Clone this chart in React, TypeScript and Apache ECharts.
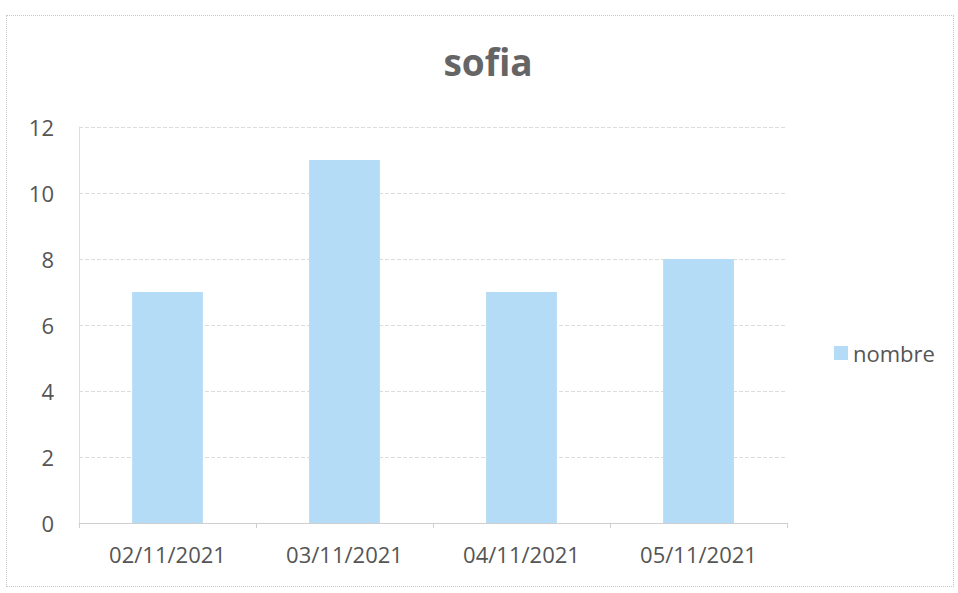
import React, { useEffect, useRef } from "react";
import * as echarts from "echarts";

const categories = ["02/11/2021", "03/11/2021", "04/11/2021", "05/11/2021"];
const values = [7, 11, 7, 8];
const seriesName = "nombre";
const title = "sofia";

export default function App() {
  const ref = useRef<HTMLDivElement>(null);
  useEffect(() => {
    const chart = echarts.init(ref.current!, undefined, { renderer: "svg" });
    chart.setOption({
      animation: false,
      backgroundColor: "#ffffff",
      title: {
        text: title,
        left: 483,
        textAlign: "center",
        top: 38,
        textStyle: { fontFamily: "Open Sans", fontSize: 37, fontWeight: "bold", color: "#656565" },
      },
      legend: {
        orient: "vertical",
        left: 829,
        top: 337,
        itemWidth: 14,
        itemHeight: 14,
        itemGap: 6,
        icon: "rect",
        textStyle: { fontFamily: "Open Sans", fontSize: 22, color: "#555555" },
        data: [seriesName],
      },
      grid: { left: 79, right: 171, top: 127, bottom: 70, containLabel: false },
      xAxis: {
        type: "category",
        data: categories,
        axisLine: { show: true, lineStyle: { color: "#cfcfcf" } },
        axisTick: { show: true, length: 5, lineStyle: { color: "#cfcfcf" } },
        axisLabel: { fontFamily: "Open Sans", fontSize: 22, color: "#555555", margin: 20 },
      },
      yAxis: {
        type: "value",
        min: 0,
        max: 12,
        interval: 2,
        axisLine: { show: true, lineStyle: { color: "#dcdcdc" } },
        axisTick: { show: false },
        splitLine: { lineStyle: { color: "#dcdcdc", type: "dashed" } },
        axisLabel: { fontFamily: "Open Sans", fontSize: 22, color: "#555555", margin: 25 },
      },
      series: [
        {
          name: seriesName,
          type: "bar",
          data: values,
          barWidth: "40%",
          itemStyle: { color: "#b5dcf6" },
        },
      ],
    });
    return () => chart.dispose();
  }, []);
  return (
    <div style={{ position: "absolute", left: 0, top: 0, width: 958, height: 593, background: "#fff" }}>
      <div ref={ref} style={{ position: "absolute", left: 0, top: 0, width: 958, height: 593 }} />
      <div
        style={{
          position: "absolute",
          left: 6,
          top: 15,
          width: 946,
          height: 570,
          border: "1px dotted #c8c8c8",
          pointerEvents: "none",
        }}
      />
    </div>
  );
}
